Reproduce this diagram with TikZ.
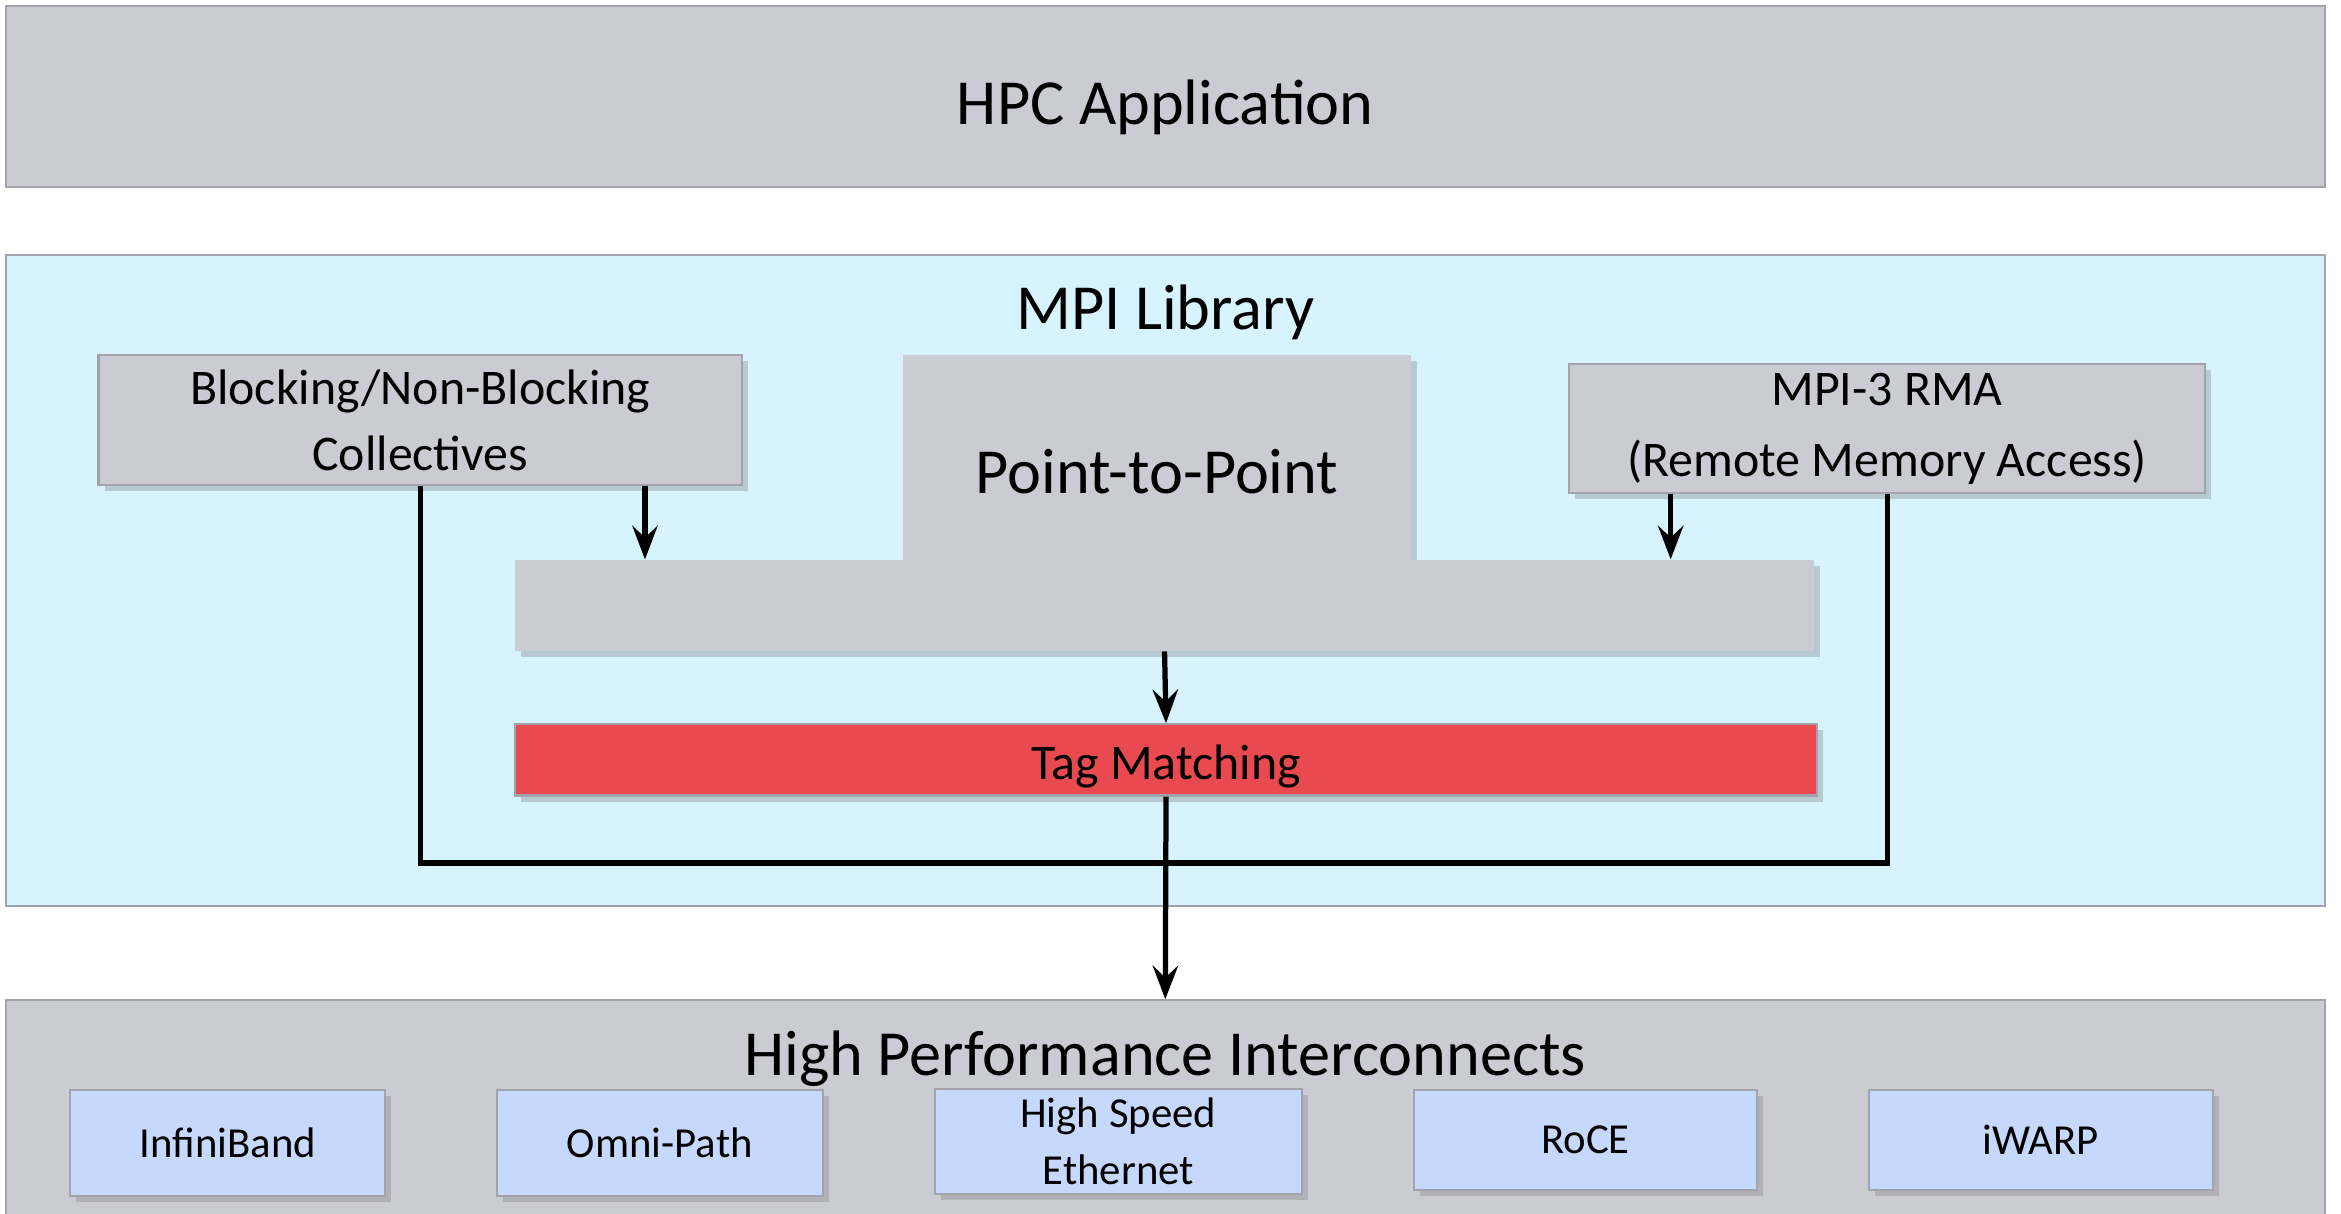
\documentclass[tikz,border=0pt]{standalone}
\usepackage{fontspec}
\setmainfont{Carlito}
\usetikzlibrary{shadows,arrows.meta}
\definecolor{boxgray}{HTML}{CBCBD3}
\definecolor{edgegray}{HTML}{A3A3AB}
\definecolor{mpiblue}{HTML}{D7F3FD}
\definecolor{tagred}{HTML}{E84A4F}
\definecolor{netblue}{HTML}{C6D9FC}
\begin{document}
\begin{tikzpicture}[>={Stealth[length=4.5mm,width=3.4mm,inset=1.6mm]},
	layer/.style={draw=edgegray,fill=boxgray,thick,rectangle,minimum width=31.06cm,
		font=\fontsize{24.5}{28}\selectfont},
	block/.style={draw=edgegray,fill=boxgray,thick,rectangle,align=center,
		drop shadow={shadow xshift=0.8mm,shadow yshift=-0.8mm,opacity=0.35},
		font=\fontsize{19}{25}\selectfont},
	plain/.style={fill=boxgray,rectangle,inner sep=0pt,
		drop shadow={shadow xshift=0.8mm,shadow yshift=-0.8mm,opacity=0.35}},
	netbox/.style={draw=edgegray,fill=netblue,thick,rectangle,align=center,
		drop shadow={shadow xshift=0.8mm,shadow yshift=-0.8mm,opacity=0.35},
		font=\fontsize{16.3}{22}\selectfont},
	link/.style={line width=2pt}]
	
	\useasboundingbox (0,0) rectangle (31.36,16.26);
	
	% retegek
	\node[layer,minimum height=2.42cm,text height=0.95cm,text depth=0.2cm] (app) at (15.61,14.97) {HPC Application};
	\node[layer,fill=mpiblue,minimum height=8.72cm] (mpi) at (15.61,8.48) {};
	\node[font=\fontsize{24.5}{28}\selectfont] (mpititle) at (15.61,12.08) {MPI Library};
	\node[layer,minimum height=3.36cm] (net) at (15.61,1.18) {};
	\node[font=\fontsize{24.5}{28}\selectfont] (nettitle) at (15.61,2.08) {High Performance Interconnects};
	
	% MPI blokkok
	\node[block,minimum width=8.62cm,minimum height=1.74cm] (coll) at (5.63,10.63) {Blocking/Non-Blocking\\Collectives};
	\node[plain,minimum width=6.8cm,minimum height=2.74cm,text height=1.05cm,text depth=0.1cm,
		font=\fontsize{24.5}{28}\selectfont] (p2p) at (15.5,10.13) {Point-to-Point};
	\node[plain,minimum width=17.4cm,minimum height=1.22cm] (bar) at (15.6,8.15) {};
	\node[block,minimum width=8.52cm,minimum height=1.72cm,font=\fontsize{19}{27}\selectfont] (rma) at (25.28,10.52) {MPI-3 RMA\\(Remote Memory Access)};
	\node[block,fill=tagred,minimum width=17.44cm,minimum height=0.88cm,text height=0.62cm,text depth=0.1cm] (tag) at (15.62,6.08) {Tag Matching};
	
	% halozatok
	\node[netbox,minimum width=4.22cm,minimum height=1.42cm] (ib) at (3.05,0.95) {InfiniBand};
	\node[netbox,minimum width=4.36cm,minimum height=1.42cm] (opa) at (8.84,0.95) {Omni-Path};
	\node[netbox,minimum width=4.92cm,minimum height=1.38cm] (hse) at (14.98,0.97) {High Speed\\Ethernet};
	\node[netbox,minimum width=4.6cm,minimum height=1.34cm] (roce) at (21.24,0.99) {RoCE};
	\node[netbox,minimum width=4.6cm,minimum height=1.34cm] (iwarp) at (27.34,0.99) {iWARP};
	
	% nyilak
	\coordinate (collx) at (8.64,0);
	\coordinate (rmax) at (22.38,0);
	\coordinate (bus) at (15.6,4.7);
	\draw[link,->] (coll.south -| collx) -- (bar.north -| collx);
	\draw[link,->] (rma.south -| rmax) -- (bar.north -| rmax);
	\draw[link,->] (bar.south) -- (tag.north);
	\draw[link] (coll.south) |- (bus) -| (rma.south);
	\draw[link,->] (tag.south) -- (net.north);
\end{tikzpicture}
\end{document}
